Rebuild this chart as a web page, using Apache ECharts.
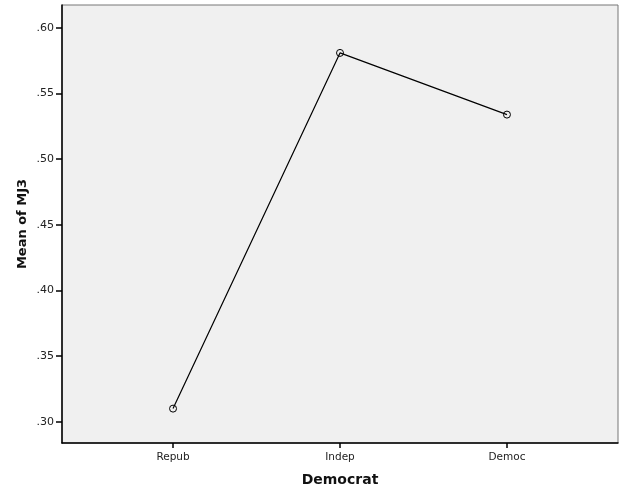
<!DOCTYPE html>
<html>
<head>
<meta charset="utf-8">
<script src="https://cdn.jsdelivr.net/npm/echarts@6/dist/echarts.min.js"></script>
<style>html,body{margin:0;padding:0;background:#fff}#c{width:626px;height:501px}</style>
</head>
<body>
<div id="c"></div>
<script>
const categories = ['Repub', 'Indep', 'Democ'];
const meanValues = [0.310, 0.581, 0.534];
const yTicks = [0.30, 0.35, 0.40, 0.45, 0.50, 0.55, 0.60];

const chart = echarts.init(document.getElementById('c'), null, {renderer: 'canvas'});
const font = 'DejaVu Sans';
chart.setOption({
  animation: false,
  backgroundColor: '#ffffff',
  grid: {left: 62, right: 8, top: 5, bottom: 58, show: true, backgroundColor: '#f0f0f0', borderColor: '#777', borderWidth: 1},
  xAxis: {
    type: 'value', min: -0.665, max: 2.665,
    name: 'Democrat', nameLocation: 'middle', nameGap: 30, nameMoveOverlap: false,
    nameTextStyle: {fontFamily: font, fontWeight: 'bold', fontSize: 14, color: '#111'},
    axisLine: {onZero: false, lineStyle: {color: '#000', width: 1.5}},
    axisTick: {show: true, length: 5, lineStyle: {color: '#000', width: 1.5}, customValues: categories.map((c, i) => i)},
    axisLabel: {customValues: categories.map((c, i) => i), formatter: v => categories[Math.round(v)] || '', fontFamily: font, fontSize: 10.5, color: '#222', margin: 9},
    splitLine: {show: false}
  },
  yAxis: {
    type: 'value', min: 0.2838, max: 0.6175,
    name: 'Mean of MJ3', nameLocation: 'middle', nameGap: 33, nameMoveOverlap: false,
    nameTextStyle: {fontFamily: font, fontWeight: 'bold', fontSize: 13, color: '#111'},
    axisLine: {show: true, onZero: false, lineStyle: {color: '#000', width: 1.5}},
    axisTick: {show: true, length: 6, lineStyle: {color: '#000', width: 1.5}, customValues: yTicks},
    axisLabel: {customValues: yTicks, formatter: v => v.toFixed(2).replace(/^0/, ''), fontFamily: font, fontSize: 11, color: '#222', margin: 8},
    splitLine: {show: false}
  },
  series: [{
    type: 'line',
    data: meanValues.map((v, i) => [i, v]),
    symbol: 'circle', symbolSize: 7,
    lineStyle: {color: '#000', width: 1.2},
    itemStyle: {color: 'rgba(0,0,0,0)', borderColor: '#000', borderWidth: 1}
  }]
});
</script>
</body>
</html>
